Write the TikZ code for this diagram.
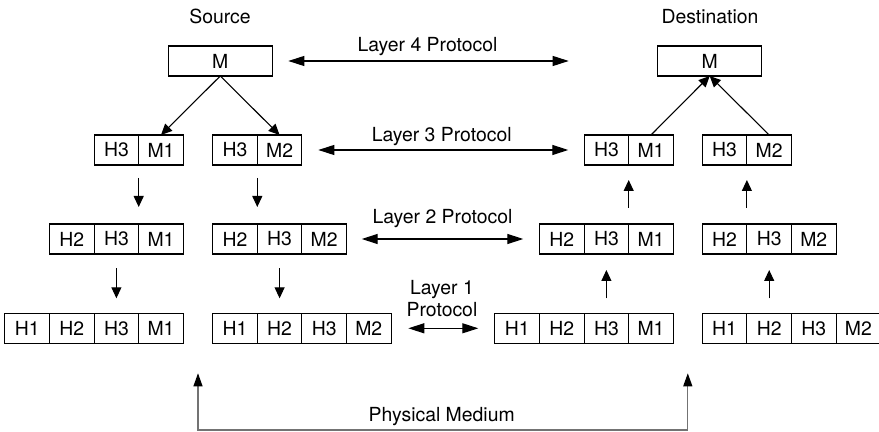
\documentclass[tikz,border=0pt]{standalone}
\usepackage{fontspec}
\setmainfont{TeX Gyre Heros}
\usetikzlibrary{arrows.meta}

\begin{document}
\begin{tikzpicture}[x=0.5pt,y=-0.5pt,font=\fontsize{9.7}{10.85}\selectfont,
    cell/.style={draw,line width=0.55pt,outer sep=0pt,inner sep=0pt,minimum width=22.3pt,minimum height=15pt},
    msg/.style={cell,minimum width=52pt},
    down/.style={line width=0.55pt,-{Triangle[length=5.5pt,width=5pt]}},
    proto/.style={line width=0.55pt,{Triangle[length=8pt,width=5pt]}-{Triangle[length=8pt,width=5pt]}},
    phys/.style={line width=0.55pt,black!55,{Triangle[length=6.5pt,width=4.5pt,color=black]}-{Triangle[length=6.5pt,width=4.5pt,color=black]}}]
    \useasboundingbox (0,0) rectangle (879,432);
    \node[anchor=base] (srcname) at (220,23.3) {Source};
    \node[anchor=base] (dstname) at (710,23.3) {Destination};
    \node[msg] (srcM) at (220.3,61) {M};
    \node[msg] (dstM) at (709.7,61) {M};
    % source side
    \foreach \t [count=\i] in {H3,M1} \node[cell] (srcA3-\i) at ({94.1+44.6*\i-22.3},150) {\t};
    \foreach \t [count=\i] in {H3,M2} \node[cell] (srcB3-\i) at ({212.7+44.6*\i-22.3},150) {\t};
    \foreach \t [count=\i] in {H2,H3,M1} \node[cell] (srcA2-\i) at ({49.5+44.6*\i-22.3},239) {\t};
    \foreach \t [count=\i] in {H2,H3,M2} \node[cell] (srcB2-\i) at ({212.7+44.6*\i-22.3},239) {\t};
    \foreach \t [count=\i] in {H1,H2,H3,M1} \node[cell] (srcA1-\i) at ({4.9+44.6*\i-22.3},328.3) {\t};
    \foreach \t [count=\i] in {H1,H2,H3,M2} \node[cell] (srcB1-\i) at ({212.7+44.6*\i-22.3},328.3) {\t};
    % destination side
    \foreach \t [count=\i] in {H3,M1} \node[cell] (dstA3-\i) at ({584.1+44.6*\i-22.3},150) {\t};
    \foreach \t [count=\i] in {H3,M2} \node[cell] (dstB3-\i) at ({702.3+44.6*\i-22.3},150) {\t};
    \foreach \t [count=\i] in {H2,H3,M1} \node[cell] (dstA2-\i) at ({539.5+44.6*\i-22.3},239) {\t};
    \foreach \t [count=\i] in {H2,H3,M2} \node[cell] (dstB2-\i) at ({702.3+44.6*\i-22.3},239) {\t};
    \foreach \t [count=\i] in {H1,H2,H3,M1} \node[cell] (dstA1-\i) at ({494.9+44.6*\i-22.3},328.3) {\t};
    \foreach \t [count=\i] in {H1,H2,H3,M2} \node[cell] (dstB1-\i) at ({702.3+44.6*\i-22.3},328.3) {\t};
    % splitting and joining
    \draw[down] (srcM.south) -- (srcA3-2.north);
    \draw[down] (srcM.south) -- (srcB3-2.north);
    \draw[down] (dstA3-2.north) -- (dstM.south);
    \draw[down] (dstB3-2.north) -- (dstM.south);
    % down the source stack
    \draw[down,shorten <=6.5pt,shorten >=8.5pt] (srcA3-1.south east) -- (srcA2-2.north east);
    \draw[down,shorten <=6.5pt,shorten >=8.5pt] (srcB3-1.south east) -- (srcB2-1.north east);
    \draw[down,shorten <=7.2pt,shorten >=7.5pt] (srcA2-2.south) -- (srcA1-3.north);
    \draw[down,shorten <=7.2pt,shorten >=7.5pt] (srcB2-2.south) -- (srcB1-2.north);
    % up the destination stack
    \draw[down,shorten <=8pt,shorten >=7.5pt] (dstA2-2.north east) -- (dstA3-1.south east);
    \draw[down,shorten <=8pt,shorten >=7.5pt] (dstB2-1.north east) -- (dstB3-1.south east);
    \draw[down,shorten <=7.5pt,shorten >=8pt] (dstA1-3.north) -- (dstA2-2.south);
    \draw[down,shorten <=7.5pt,shorten >=8pt] (dstB1-2.north) -- (dstB2-2.south);
    % peer protocols
    \draw[proto,shorten <=8pt,shorten >=44.5pt] (srcM.east) -- (dstM.west);
    \node[anchor=base] (l4) at (427.5,51.7) {Layer 4 Protocol};
    \draw[proto,shorten <=8.2pt,shorten >=7.9pt] (srcB3-2.east) -- (dstA3-1.west);
    \node[anchor=base] (l3) at (441.7,141.7) {Layer 3 Protocol};
    \draw[proto,shorten <=7.6pt,shorten >=8.1pt] (srcB2-3.east) -- (dstA2-1.west);
    \node[anchor=base] (l2) at (442.5,223.3) {Layer 2 Protocol};
    \draw[proto,shorten <=8.6pt,shorten >=8.3pt] (srcB1-4.east) -- (dstA1-1.west);
    \node[align=center] (l1) at (442,298.8) {Layer 1\\Protocol};
    % physical medium
    \coordinate (medA) at (198,373.3);
    \coordinate (medB) at (687.8,373.3);
    \draw[phys] (medA) -- ++(0,56.7) -| (medB);
    \node[anchor=base] (medium) at (441.7,421.7) {Physical Medium};
\end{tikzpicture}
\end{document}
